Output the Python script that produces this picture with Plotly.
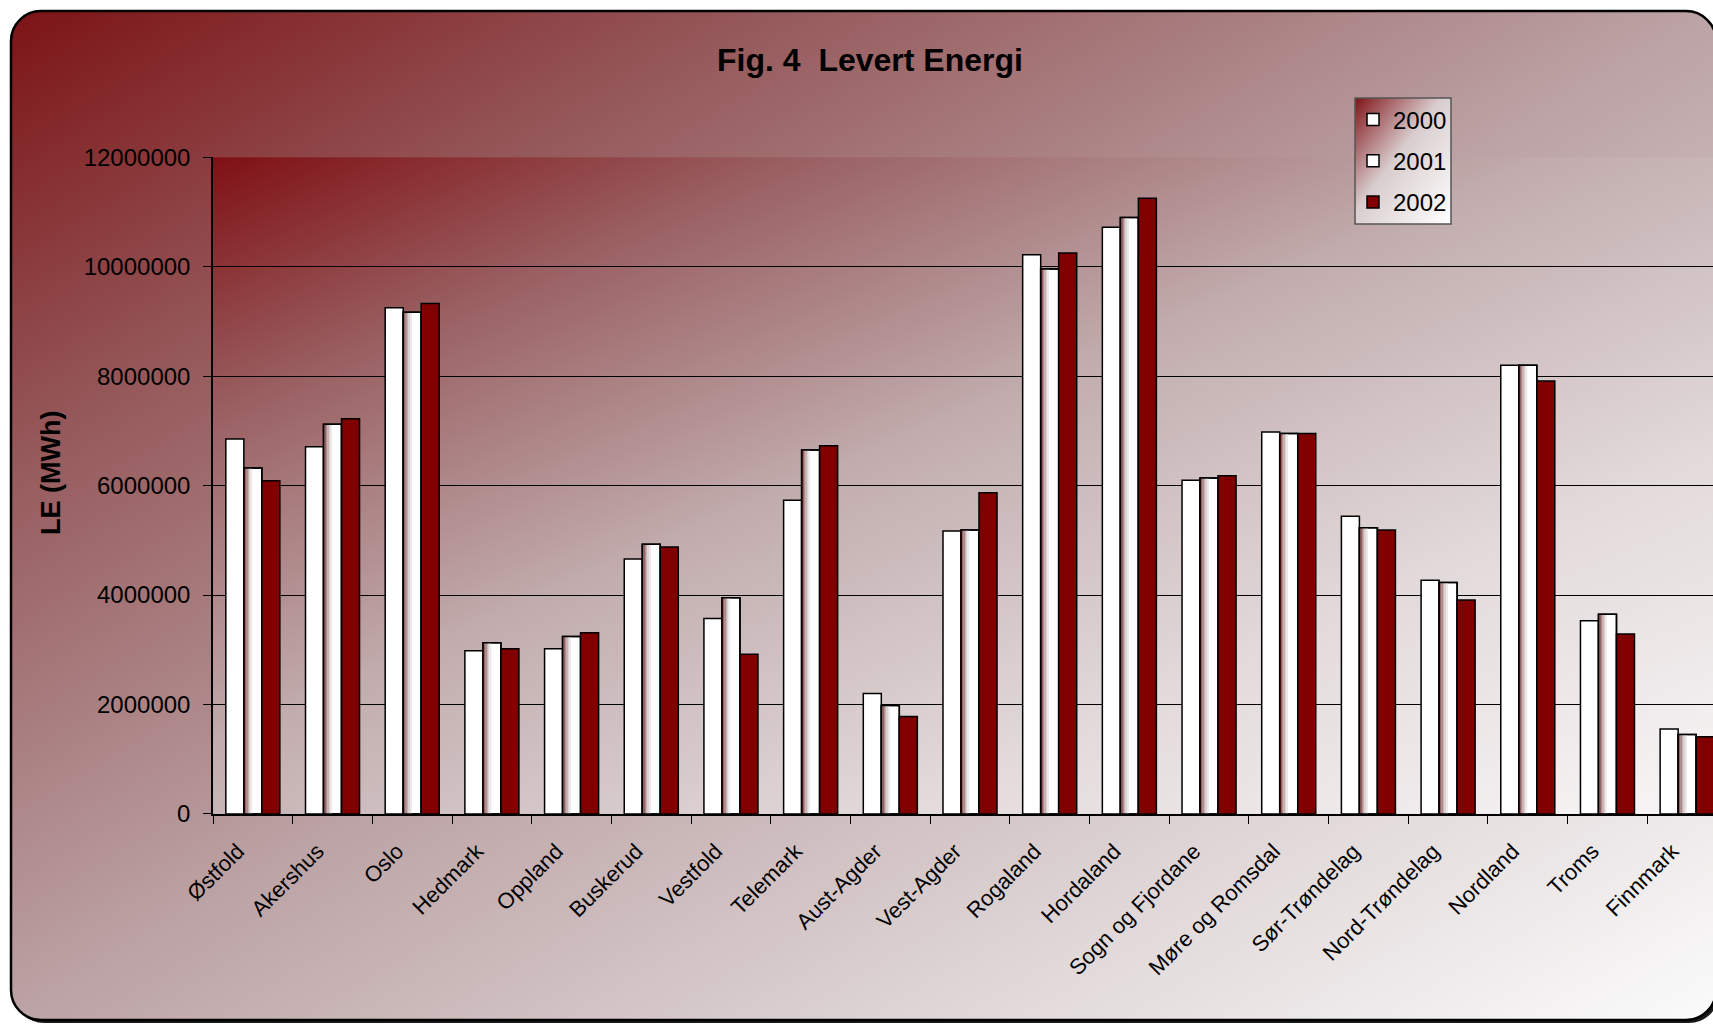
import base64
import plotly.graph_objects as go

# ---------------- data ----------------
categories = ["Østfold", "Akershus", "Oslo", "Hedmark", "Oppland", "Buskerud",
              "Vestfold", "Telemark", "Aust-Agder", "Vest-Agder", "Rogaland",
              "Hordaland", "Sogn og Fjordane", "Møre og Romsdal", "Sør-Trøndelag",
              "Nord-Trøndelag", "Nordland", "Troms", "Finnmark"]
le_2000 = [6.85e6, 6.71e6, 9.25e6, 2.98e6, 3.02e6, 4.66e6, 3.57e6, 5.73e6, 2.20e6, 5.17e6,
           10.22e6, 10.72e6, 6.10e6, 6.98e6, 5.44e6, 4.27e6, 8.20e6, 3.53e6, 1.55e6]
le_2001 = [6.32e6, 7.12e6, 9.17e6, 3.13e6, 3.24e6, 4.93e6, 3.95e6, 6.65e6, 1.98e6, 5.19e6,
           9.96e6, 10.90e6, 6.14e6, 6.95e6, 5.23e6, 4.23e6, 8.20e6, 3.65e6, 1.45e6]
le_2002 = [6.09e6, 7.22e6, 9.33e6, 3.02e6, 3.31e6, 4.88e6, 2.92e6, 6.73e6, 1.78e6, 5.87e6,
           10.25e6, 11.25e6, 6.18e6, 6.95e6, 5.19e6, 3.91e6, 7.91e6, 3.29e6, 1.41e6]
series_names = ["2000", "2001", "2002"]
y_ticks = [0, 2000000, 4000000, 6000000, 8000000, 10000000, 12000000]

# ---------------- layout constants ----------------
W, H = 1713, 1025
PX0, PX1 = 213, 1713          # plot area left / right (px)
PY_TOP, PY_BOT = 157.3, 813.9  # plot area top / bottom (px)
BAR_W = 0.226
FONT = "Liberation Sans, Arial, sans-serif"

# ---------------- background (svg gradients) ----------------
svg = f'''<svg xmlns="http://www.w3.org/2000/svg" width="{W}" height="{H}" viewBox="0 0 {W} {H}" preserveAspectRatio="none">
<defs>
<linearGradient id="g1" x1="0" y1="0" x2="1" y2="1">
<stop offset="0" stop-color="#7c1315"/>
<stop offset="0.22" stop-color="#95585a"/>
<stop offset="0.5" stop-color="#bca3a5"/>
<stop offset="0.75" stop-color="#ddd3d4"/>
<stop offset="1" stop-color="#fbfbfb"/>
</linearGradient>
<linearGradient id="g2" x1="0" y1="0" x2="1" y2="1">
<stop offset="0" stop-color="#7f1014"/>
<stop offset="0.2" stop-color="#9a6163"/>
<stop offset="0.45" stop-color="#c2adae"/>
<stop offset="0.72" stop-color="#e2d9da"/>
<stop offset="1" stop-color="#f8f6f6"/>
</linearGradient>
<linearGradient id="g3" x1="0" y1="0" x2="1" y2="1">
<stop offset="0" stop-color="#801418"/>
<stop offset="0.45" stop-color="#d9cdce"/>
<stop offset="1" stop-color="#ffffff"/>
</linearGradient>
</defs>
<rect width="{W}" height="{H}" fill="#ffffff"/>
<rect x="14" y="14" width="1705" height="1009" rx="30" ry="30" fill="#1a1a1a"/>
<rect x="11" y="11" width="1705" height="1009" rx="30" ry="30" fill="url(#g1)" stroke="#000" stroke-width="2.5"/>
<rect x="{PX0}" y="{PY_TOP}" width="{PX1 - PX0}" height="{PY_BOT - PY_TOP}" fill="url(#g2)"/>
<rect x="1355" y="98" width="96" height="126" fill="url(#g3)" stroke="#555" stroke-width="1.5"/>
</svg>'''
bg_src = "data:image/svg+xml;base64," + base64.b64encode(svg.encode("utf-8")).decode("ascii")

fig = go.Figure()

line = dict(color="#000000", width=1.5)

fig.add_trace(go.Bar(x=categories, y=le_2000, name=series_names[0], legendgroup="a",
                     offset=-1.5 * BAR_W, width=BAR_W,
                     marker=dict(color="#ffffff", line=line)))

fig.add_trace(go.Bar(x=categories, y=le_2001, name=series_names[1], legendgroup="b",
                     offset=-0.5 * BAR_W, width=BAR_W,
                     marker=dict(color="#ffffff", line=line)))

# shading strips giving the 2001 bars their gradient edge
strip_colors = ["#7a1c1e", "#946263", "#ad8e8f", "#c6b3b4", "#dcd1d2", "#eee9e9"]
strip_w = 0.0175
for i, c in enumerate(strip_colors):
    fig.add_trace(go.Bar(x=categories, y=le_2001, legendgroup="b", showlegend=False,
                         offset=-0.5 * BAR_W + i * strip_w, width=strip_w,
                         marker=dict(color=c, line=dict(width=0)), hoverinfo="skip"))
fig.add_trace(go.Bar(x=categories, y=le_2001, legendgroup="b", showlegend=False,
                     offset=-0.5 * BAR_W, width=BAR_W,
                     marker=dict(color="rgba(0,0,0,0)", line=line), hoverinfo="skip"))

fig.add_trace(go.Bar(x=categories, y=le_2002, name=series_names[2], legendgroup="c",
                     offset=0.5 * BAR_W, width=BAR_W,
                     marker=dict(color="#800000", line=line)))

fig.update_layout(
    width=W, height=H,
    margin=dict(l=0, r=0, t=0, b=0, autoexpand=False),
    template="none",
    paper_bgcolor="#ffffff",
    plot_bgcolor="rgba(0,0,0,0)",
    barmode="overlay",
    font=dict(family=FONT, color="#000000"),
    title=dict(text="<b>Fig. 4\u00a0 Levert Energi</b>", x=870 / W, y=1 - 60 / H,
               xanchor="center", yanchor="middle", xref="paper", yref="paper",
               font=dict(size=32, family=FONT, color="#000000")),
    showlegend=True,
    legend=dict(x=1353 / W, y=1 - 97.5 / H, xanchor="left", yanchor="top",
                bgcolor="rgba(0,0,0,0)", borderwidth=0,
                font=dict(size=24, family=FONT, color="#000000"),
                tracegroupgap=7, traceorder="grouped"),
    xaxis=dict(domain=[PX0 / W, PX1 / W], type="category",
               range=[-0.5, 18.5 - (1727 - PX1) / 79.7],
               showgrid=False, showline=True, linecolor="#000000", linewidth=1.5,
               ticks="outside", ticklen=8, tickcolor="#000000", tickwidth=1,
               tickson="boundaries", tickangle=-45,
               ticklabelstandoff=14, ticklabelshift=-15,
               tickfont=dict(size=22, family=FONT, color="#000000"),
               automargin=False, zeroline=False),
    yaxis=dict(domain=[1 - PY_BOT / H, 1 - PY_TOP / H], range=[0, 12000000],
               tickvals=y_ticks, tickformat="d",
               showgrid=True, gridcolor="#000000", gridwidth=1,
               showline=True, linecolor="#000000", linewidth=1.5,
               ticks="outside", ticklen=8, tickcolor="#000000", tickwidth=1,
               ticklabelstandoff=8,
               tickfont=dict(size=24, family=FONT, color="#000000"),
               automargin=False, zeroline=False),
    images=[dict(source=bg_src, xref="paper", yref="paper", x=0, y=1, sizex=1, sizey=1,
                 xanchor="left", yanchor="top", sizing="stretch", layer="below")],
    annotations=[dict(text="<b>LE (MWh)</b>", textangle=-90, x=51 / W, y=1 - 473 / H,
                      xref="paper", yref="paper", showarrow=False,
                      xanchor="center", yanchor="middle",
                      font=dict(size=27, family=FONT, color="#000000"))],
)

fig.write_html("out.html", config={"displayModeBar": False})
